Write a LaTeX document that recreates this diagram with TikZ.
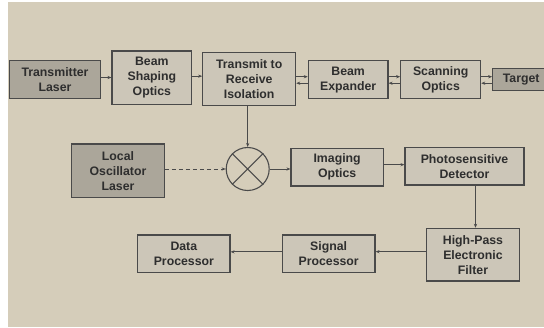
\documentclass[tikz,border=0pt]{standalone}
\usepackage{fontspec}
\setmainfont{Liberation Sans}
\usetikzlibrary{arrows.meta}
\definecolor{bgc}{HTML}{D5CDBA}
\definecolor{boxc}{HTML}{CCC6B8}
\definecolor{darkc}{HTML}{ABA69A}
\definecolor{linec}{HTML}{4A4A4A}
\definecolor{txtc}{HTML}{2E2E2E}
\tikzset{
  blk/.style={draw=linec, line width=1.1pt, fill=boxc, inner sep=0pt, align=center,
    text=txtc, font=\fontsize{12.3}{15}\selectfont\bfseries},
  dblk/.style={blk, fill=darkc},
  arr/.style={draw=linec, line width=0.9pt, -{Stealth[length=4pt,width=3.2pt]}},
  darr/.style={arr, dashed, dash pattern=on 4pt off 3pt},
}
\begin{document}
\begin{tikzpicture}[x=1pt,y=-1pt]
\clip (0,0) rectangle (544,327);
\fill[white] (0,0) rectangle (544,327);
\fill[bgc] (8,2) rectangle (544,327);
% top row
\node[dblk, minimum width=91.4pt, minimum height=37.6pt] (tl) at (55,79.5) {Transmitter\\Laser};
\node[blk, minimum width=79.7pt, minimum height=53.3pt] (bso) at (151.85,77.65) {Beam\\Shaping\\Optics};
\node[blk, minimum width=93pt, minimum height=52.6pt] (tri) at (249.2,79) {Transmit to\\Receive\\Isolation};
\node[blk, minimum width=79.7pt, minimum height=38pt] (be) at (348.15,79.7) {Beam\\Expander};
\node[blk, minimum width=80pt, minimum height=38pt] (so) at (440.7,79.7) {Scanning\\Optics};
\node[dblk, minimum width=57pt, minimum height=21.7pt] (tg) at (521.2,79.2) {Target};
% middle row
\node[dblk, minimum width=92.6pt, minimum height=53.7pt] (lo) at (118,170.85) {Local\\Oscillator\\Laser};
\node[draw=linec, line width=1.1pt, circle, minimum size=43pt, inner sep=0pt] (mix) at (247.7,169) {};
\draw[linec, line width=1.1pt] (mix.north west) -- (mix.south east) (mix.north east) -- (mix.south west);
\node[blk, minimum width=92.3pt, minimum height=37.7pt] (io) at (337.15,167.15) {Imaging\\Optics};
\node[blk, minimum width=119pt, minimum height=37.3pt] (pd) at (464.5,166.35) {Photosensitive\\Detector};
% bottom row
\node[blk, minimum width=92.6pt, minimum height=52.7pt] (hp) at (473,254.65) {High-Pass\\Electronic\\Filter};
\node[blk, minimum width=92.7pt, minimum height=37.7pt] (sp) at (328.65,253.85) {Signal\\Processor};
\node[blk, minimum width=92.3pt, minimum height=37.7pt] (dp) at (183.85,253.85) {Data\\Processor};
% connectors
\draw[arr] ([yshift=2pt]tl.east) -- ([yshift=2pt]tl.east -| bso.west);
\draw[arr] ([yshift=1.5pt]bso.east) -- ([yshift=1.5pt]bso.east -| tri.west);
\draw[arr] ([yshift=3pt]tri.east |- be.east) -- ([yshift=3pt]be.west);
\draw[arr] ([yshift=-3.5pt]be.west) -- ([yshift=-3.5pt]tri.east |- be.west);
\draw[arr] ([yshift=3pt]be.east) -- ([yshift=3pt]so.west);
\draw[arr] ([yshift=-3.5pt]so.west) -- ([yshift=-3.5pt]be.east);
\draw[arr] ([yshift=3pt]so.east) -- ([yshift=3pt]so.east -| tg.west);
\draw[arr] ([yshift=-3.5pt]so.east -| tg.west) -- ([yshift=-3.5pt]so.east);
\draw[arr] (mix.north |- tri.south) -- (mix.north);
\draw[darr] (lo.east |- mix.west) -- (mix.west);
\draw[arr] (mix.east) -- (mix.east -| io.west);
\draw[arr] ([yshift=2.5pt]io.east) -- ([yshift=2.5pt]io.east -| pd.west);
\draw[arr] ([xshift=2.5pt]hp.north |- pd.south) -- ([xshift=2.5pt]hp.north);
\draw[arr] ([yshift=3pt]hp.west) -- ([yshift=3pt]hp.west -| sp.east);
\draw[arr] ([yshift=2pt]sp.west) -- ([yshift=2pt]sp.west -| dp.east);
\end{tikzpicture}
\end{document}
